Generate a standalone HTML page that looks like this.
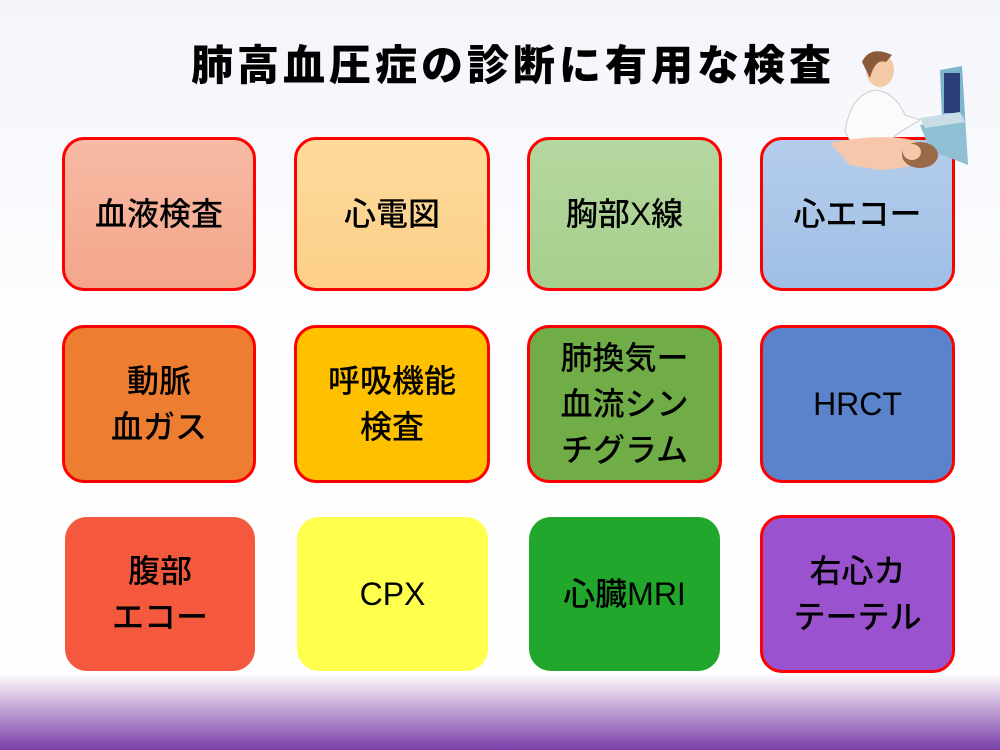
<!DOCTYPE html>
<html><head><meta charset="utf-8"><style>
body{margin:0;width:1000px;height:750px;overflow:hidden;position:relative;background:linear-gradient(#f3f5fb,#fdfdff 40%,#ffffff);font-family:"Liberation Sans","Noto Sans CJK JP",sans-serif;}
.t{position:absolute;left:0;width:1026px;top:32px;text-align:center;font-size:42px;font-weight:900;letter-spacing:4px;color:#000;}
.b{position:absolute;box-sizing:border-box;border-radius:22px;display:flex;align-items:center;justify-content:center;text-align:center;font-size:32px;font-weight:500;line-height:46px;color:#000;}
.r{border:3px solid #f00;}
.bot{position:absolute;left:0;top:673px;width:1000px;height:77px;background:linear-gradient(#ffffff,#d9c4e4 30%,#9a6ec0 75%,#7a3fa8);}
</style></head><body>
<div class="t">肺高血圧症の診断に有用な検査</div>
<div class="b r" style="left:62px;top:137px;width:194px;height:154px;background:linear-gradient(#f7baa4,#f4a68a)">血液検査</div>
<div class="b r" style="left:294px;top:137px;width:196px;height:154px;background:linear-gradient(#fddb9c,#fccf88)">心電図</div>
<div class="b r" style="left:527px;top:137px;width:195px;height:154px;background:linear-gradient(#b5d7a0,#a6cf8c)">胸部X線</div>
<div class="b r" style="left:760px;top:137px;width:195px;height:154px;background:linear-gradient(#b5cdec,#a0bfe5)">心エコー</div>
<div class="b r" style="left:62px;top:325px;width:194px;height:158px;background:#ed7d31">動脈<br>血ガス</div>
<div class="b r" style="left:294px;top:325px;width:196px;height:158px;background:#ffc000">呼吸機能<br>検査</div>
<div class="b r" style="left:527px;top:325px;width:195px;height:158px;background:#70ad47">肺換気ー<br>血流シン<br>チグラム</div>
<div class="b r" style="left:760px;top:325px;width:195px;height:158px;background:#5b83cc">HRCT</div>
<div class="b" style="left:65px;top:517px;width:190px;height:154px;background:#f4583d">腹部<br>エコー</div>
<div class="b" style="left:297px;top:517px;width:191px;height:154px;background:#ffff4d">CPX</div>
<div class="b" style="left:529px;top:517px;width:191px;height:154px;background:#21a72c">心臓MRI</div>
<div class="b r" style="left:760px;top:515px;width:195px;height:158px;background:#9b52cf">右心カ<br>テーテル</div>
<svg style="position:absolute;left:820px;top:40px" width="180" height="150">
<polygon points="120,30 142,26 145,75 122,80" fill="#7fb4cf"/>
<rect x="124" y="33" width="16" height="40" fill="#2b3f78"/>
<polygon points="100,85 145,75 148,125 110,110" fill="#8ebfd2"/>
<polygon points="100,78 140,72 145,82 105,88" fill="#c8dde6"/>
<path d="M25 92 Q30 55 55 50 Q75 52 85 75 L100 80 L80 92 L70 100 L30 100Z" fill="#fbfbfb" stroke="#ccc"/>
<ellipse cx="60" cy="30" rx="14" ry="17" fill="#f3c9a8"/>
<path d="M42 22 Q50 5 72 15 L66 22 Q55 18 50 38Z" fill="#8a5a3a"/>
<path d="M10 103 Q50 95 80 98 Q100 100 110 110 Q105 128 60 130 L30 125Z" fill="#f6c7aa"/>
<ellipse cx="100" cy="115" rx="18" ry="13" fill="#9a6a48"/>
<ellipse cx="92" cy="112" rx="9" ry="8" fill="#f6c7aa"/>
</svg>
<div class="bot"></div>
</body></html>
